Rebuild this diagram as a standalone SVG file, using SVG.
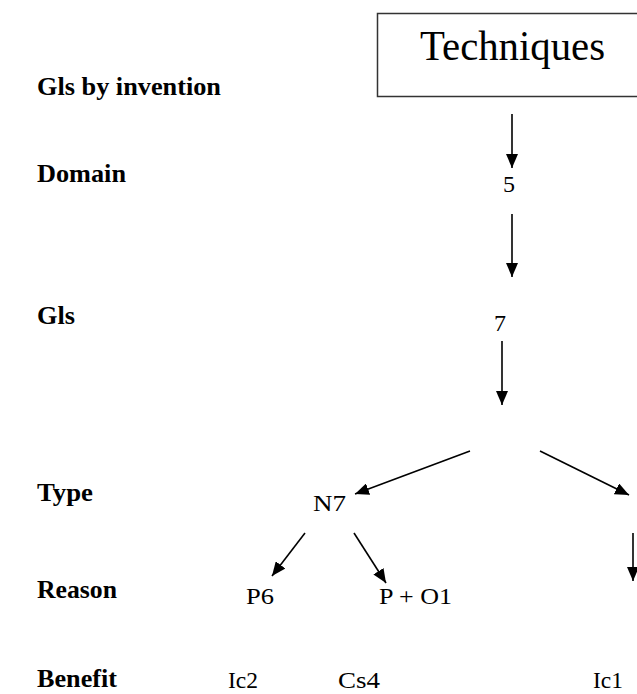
<svg xmlns="http://www.w3.org/2000/svg" width="637" height="694" viewBox="0 0 637 694">
<style>
.lbl{font-family:"Liberation Serif","Times New Roman",serif;font-weight:bold;font-size:26px;fill:#000}
.t{font-family:"Liberation Serif","Times New Roman",serif;font-size:24px;fill:#000}
.c{stroke:#000;stroke-width:1.6;fill:none;marker-end:url(#ah)}
</style>
<defs>
<marker id="ah" viewBox="0 0 14 12" refX="14" refY="6" markerWidth="14" markerHeight="12" markerUnits="userSpaceOnUse" orient="auto">
<path d="M0,0 L14,6 L0,12 z" fill="#000"/>
</marker>
</defs>
<rect width="637" height="694" fill="#fff"/>
<g id="labels">
<text class="lbl" x="37" y="95" textLength="184" lengthAdjust="spacingAndGlyphs">Gls by invention</text>
<text class="lbl" x="37" y="182" textLength="89" lengthAdjust="spacingAndGlyphs">Domain</text>
<text class="lbl" x="37" y="324" textLength="38" lengthAdjust="spacingAndGlyphs">Gls</text>
<text class="lbl" x="37" y="501" textLength="56" lengthAdjust="spacingAndGlyphs">Type</text>
<text class="lbl" x="37" y="598" textLength="80" lengthAdjust="spacingAndGlyphs">Reason</text>
<text class="lbl" x="37" y="687" textLength="80" lengthAdjust="spacingAndGlyphs">Benefit</text>
</g>
<g id="techniques">
<rect x="377.5" y="13.5" width="270" height="83" fill="#fff" stroke="#333" stroke-width="1.5"/>
<text x="420" y="60" font-family="Liberation Serif,Times New Roman,serif" font-size="42" textLength="185" lengthAdjust="spacingAndGlyphs">Techniques</text>
</g>
<g id="n5"><text class="t" x="503" y="192" font-size="20">5</text></g>
<g id="n7"><text class="t" x="494" y="331" font-size="20">7</text></g>
<g id="N7"><text class="t" x="313" y="511" textLength="33" lengthAdjust="spacingAndGlyphs">N7</text></g>
<g id="P6"><text class="t" x="246" y="604" textLength="28" lengthAdjust="spacingAndGlyphs">P6</text></g>
<g id="PO1"><text class="t" x="379" y="604" textLength="73" lengthAdjust="spacingAndGlyphs">P + O1</text></g>
<g id="Ic2"><text class="t" x="228" y="688" font-size="22" textLength="30" lengthAdjust="spacingAndGlyphs">Ic2</text></g>
<g id="Cs4"><text class="t" x="338" y="688" font-size="22" textLength="42" lengthAdjust="spacingAndGlyphs">Cs4</text></g>
<g id="Ic1"><text class="t" x="593" y="688" font-size="22" textLength="30" lengthAdjust="spacingAndGlyphs">Ic1</text></g>
<g id="connectors">
<line class="c" x1="512" y1="114" x2="512" y2="168"/>
<line class="c" x1="512" y1="214" x2="512" y2="277"/>
<line class="c" x1="502" y1="341" x2="502" y2="405"/>
<line class="c" x1="470" y1="451" x2="355" y2="494"/>
<line class="c" x1="540" y1="451" x2="629" y2="495"/>
<line class="c" x1="305" y1="533" x2="272" y2="576"/>
<line class="c" x1="354" y1="533" x2="386" y2="583"/>
<line class="c" x1="633" y1="533" x2="633" y2="581"/>
</g>
</svg>
